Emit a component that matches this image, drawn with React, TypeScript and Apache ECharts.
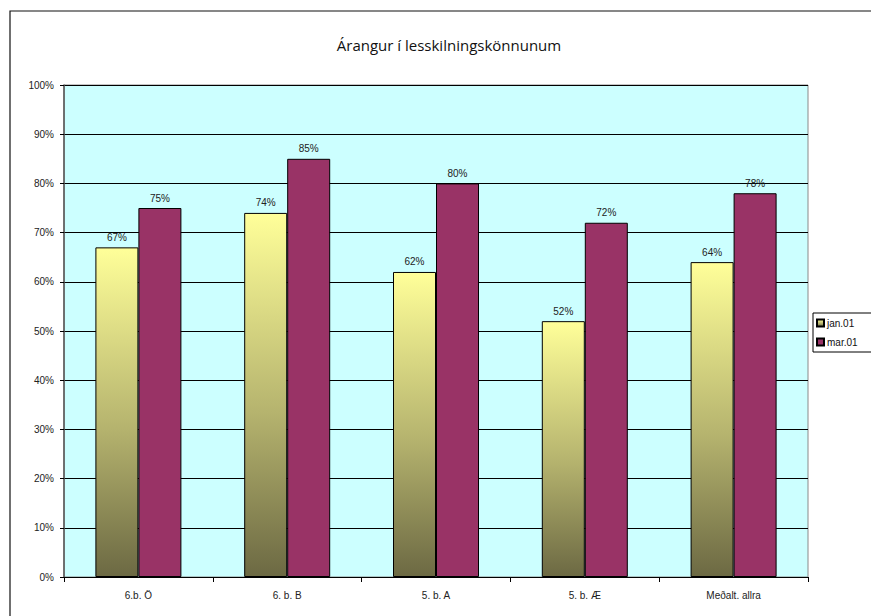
import React, { useEffect, useRef } from "react";
import * as echarts from "echarts";

const categories = ["6.b. Ö", "6. b. B", "5. b. A", "5. b. Æ", "Meðalt. allra"];
const seriesNames = ["jan.01", "mar.01"];
const janValues = [67, 74, 62, 52, 64];
const marValues = [75, 85, 80, 72, 78];
const titleText = "Árangur í lesskilningskönnunum";

export default function App() {
  const ref = useRef<HTMLDivElement>(null);
  useEffect(() => {
    if (!ref.current) return;
    const chart = echarts.init(ref.current, null, { renderer: "svg" });
    const font = "Arial, 'Liberation Sans', sans-serif";
    const labelCfg = {
      show: true,
      position: "top" as const,
      distance: 5,
      fontSize: 10,
      fontFamily: font,
      color: "#222",
      formatter: (p: any) => p.value + "%",
    };
    chart.setOption({
      animation: false,
      backgroundColor: "#fff",
      title: {
        text: titleText,
        left: 444,
        top: 32,
        textAlign: "center",
        textStyle: { fontSize: 15, fontWeight: "normal", fontFamily: "'Open Sans', sans-serif", color: "#111" },
      },
      graphic: [
        {
          type: "rect",
          shape: { x: 10, y: 11, width: 900, height: 700 },
          style: { fill: "none", stroke: "#111", lineWidth: 1.2 },
          silent: true,
          z: -1,
        },
      ],
      legend: {
        orient: "vertical",
        left: 813,
        top: 313,
        itemWidth: 7,
        itemHeight: 7,
        itemGap: 9,
        padding: [5, 20, 5, 3],
        backgroundColor: "#fff",
        borderColor: "#000",
        borderWidth: 1,
        icon: "rect",
        textStyle: { fontSize: 10, fontFamily: font, color: "#111", padding: [0, 0, 0, -2] },
        data: seriesNames,
      },
      grid: {
        left: 64,
        right: 63,
        top: 85,
        bottom: 39,
        show: true,
        backgroundColor: "#CCFFFF",
        borderColor: "#8a8a8a",
        borderWidth: 1,
      },
      xAxis: {
        type: "category",
        data: categories,
        axisLine: { show: true, lineStyle: { color: "#000", width: 1 } },
        axisTick: { show: true, length: 5, lineStyle: { color: "#000" } },
        axisLabel: { fontSize: 10, fontFamily: font, color: "#222", margin: 13 },
      },
      yAxis: {
        type: "value",
        min: 0,
        max: 100,
        interval: 10,
        axisLine: { show: true, lineStyle: { color: "#555", width: 1.5 } },
        axisTick: { show: true, length: 4, lineStyle: { color: "#000" } },
        axisLabel: { fontSize: 10, fontFamily: font, color: "#222", margin: 10, formatter: "{value}%" },
        splitLine: { show: true, lineStyle: { color: "#000", width: 1 } },
      },
      series: [
        {
          name: seriesNames[0],
          type: "bar",
          data: janValues,
          barWidth: 43,
          barGap: "0%",
          itemStyle: {
            color: new echarts.graphic.LinearGradient(0, 0, 0, 1, [
              { offset: 0, color: "#FFFF99" },
              { offset: 0.55, color: "#B5B36E" },
              { offset: 1, color: "#6C6943" },
            ]),
            borderColor: "#000",
            borderWidth: 1,
          },
          label: labelCfg,
        },
        {
          name: seriesNames[1],
          type: "bar",
          data: marValues,
          barWidth: 43,
          barGap: "0%",
          itemStyle: { color: "#993366", borderColor: "#000", borderWidth: 1 },
          label: labelCfg,
        },
      ],
    });
    return () => chart.dispose();
  }, []);
  return (
    <div
      ref={ref}
      style={{ position: "fixed", left: 0, top: 0, width: 871, height: 616 }}
    />
  );
}
